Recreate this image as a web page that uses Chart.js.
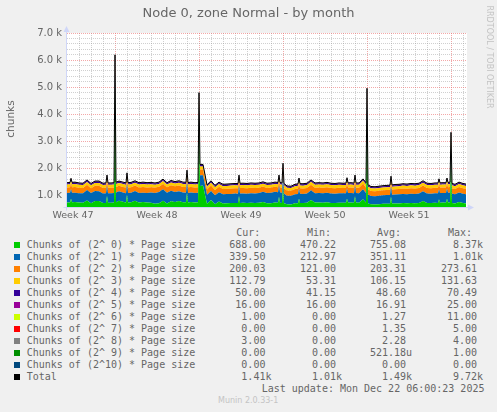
<!DOCTYPE html>
<html><head><meta charset="utf-8">
<script src="https://cdn.jsdelivr.net/npm/chart.js@4"></script>
<style>
html,body{margin:0;padding:0;background:#F0F0F0;width:497px;height:412px;overflow:hidden;}
#wrap{position:relative;width:497px;height:412px;}
#c{position:absolute;left:0;top:0;}
.t{position:absolute;white-space:pre;color:#666;font-family:"DejaVu Sans",sans-serif;}
.mono{font-family:"DejaVu Sans Mono",monospace;font-size:10px;line-height:12px;}
.sq{position:absolute;width:6px;height:6px;}
</style></head><body><div id="wrap"><canvas id="c" width="497" height="225"></canvas></div>
<script>
// ---- data (time in hours since the left edge of the graph) ----
const hours = [0,6,8,10,
  16,24,32,40,48,56,64,72, 78,80,82,
  88,94,96,98,104,112, 118,120,122,
  128,136,144,152,160,168,176,184,192,200,208,216,224,232, 238,240,242,
  248,256,262,264,266,272,280,288,296,304,312,320,328,336, 342,344,346,
  352,360,368,376,384,392,400,408,416, 422,424,426,
  430,432,434,440,448,456, 462,464,466,
  472,480,488,496,504,512,520,528,536,544,552, 558,560,562, 568, 574,576,578,
  584,592,598,600,602,608,616,624,632,640, 646,648,650,
  656,664,672,680,688,696,704,712,720,728,736, 742,744,746, 752, 758,760,762,
  766,768,770,776,784,792,798];

const chunks0 = [748,752,891,760,
  768,747,736,824,719,805,804,728, 735,986,740,
  743,748,5021,758,815,775, 745,1039,750,
  760,809,751,763,745,736,703,723,815,712,794,769,804,760, 755,1107,748,
  763,749,759,3748,1353,1378,703,837,686,790,715,718,727,732, 730,988,735,
  738,730,743,735,740,771,717,723,752, 740,960,738,
  731,1348,722,681,675,719, 725,899,730,
  726,738,838,745,749,742,754,733,730,743,736, 740,896,745, 748, 740,977,745,
  743,868,748,3848,711,680,677,689,699,702, 705,974,710,
  713,715,727,717,728,721,733,808,733,730,738, 735,866,740, 745, 742,887,748,
  759,2357,732,715,766,731,716];
const chunks1 = [350,352,360,348,
  345,340,350,390,380,370,360,350, 355,380,350,
  345,350,700,360,350,345, 348,400,350,
  350,360,345,350,355,380,400,410,420,400,390,370,360,355, 355,420,355,
  355,350,350,600,400,380,330,340,330,340,335,340,340,345, 345,380,345,
  345,345,350,350,355,370,380,390,390, 390,420,385,
  370,450,360,320,320,335, 340,370,340,
  340,345,360,345,350,350,355,350,345,350,350, 350,380,352, 355, 350,390,350,
  350,370,355,650,330,310,305,310,315,320, 322,370,325,
  330,335,340,340,345,345,350,360,350,345,355, 355,370,355, 355, 355,375,358,
  360,550,345,335,355,345,340];
const chunks2 = [205,208,210,208,
  208,205,200,190,180,190,200,205, 206,210,205,
  205,205,250,205,200,205, 205,215,205,
  205,205,208,210,205,200,195,195,200,195,200,205,208,208, 208,220,206,
  205,205,205,240,215,210,195,200,195,198,198,200,200,200, 200,210,202,
  202,200,202,200,200,195,190,185,185, 186,200,190,
  195,210,195,190,188,195, 200,205,200,
  200,202,205,205,205,203,205,202,200,202,200, 202,205,202, 202, 202,210,202,
  202,205,202,245,190,185,183,185,188,190, 192,200,194,
  195,198,200,200,202,200,202,205,202,200,202, 204,206,204, 204, 205,208,205,
  205,230,200,198,204,200,200];
const chunks3 = [108,108,108,109,
  110,110,106,104,102,105,106,108, 108,110,108,
  108,108,125,108,106,106, 106,112,106,
  106,106,107,108,106,105,104,104,105,104,106,107,108,108, 108,115,108,
  108,107,107,120,110,110,104,104,102,104,104,104,105,105, 105,110,106,
  106,106,106,106,106,105,104,103,104, 104,108,105,
  105,110,104,102,100,103, 104,106,105,
  105,106,107,106,107,106,107,106,106,106,105, 105,107,106, 106, 106,110,106,
  106,107,106,122,102,100,100,101,102,102, 103,106,103,
  104,104,105,105,106,105,106,107,106,106,106, 107,108,107, 107, 107,108,107,
  107,115,105,104,106,105,105];
const chunks4 = [48,48,50,48,
  48,47,47,50,48,49,49,48, 48,52,48,
  48,48,60,48,48,48, 48,52,48,
  48,49,48,48,48,48,47,47,49,48,49,48,49,48, 48,55,48,
  48,48,48,58,50,50,47,48,46,47,47,47,47,47, 47,50,48,
  48,48,48,48,48,48,48,48,48, 48,50,48,
  48,50,48,46,46,47, 48,49,48,
  48,48,49,48,48,48,48,48,48,48,48, 48,50,48, 48, 48,51,48,
  48,49,48,60,46,45,45,45,46,46, 46,49,46,
  47,47,47,47,48,48,48,49,48,48,48, 48,49,48, 48, 48,50,48,
  48,55,47,47,48,48,48];
const chunks5 = [17,17,17,17,
  17,17,17,18,17,17,17,17, 17,18,17,
  17,17,20,17,17,17, 17,18,17,
  17,17,17,17,17,17,17,17,17,17,17,17,17,17, 17,19,17,
  17,17,17,20,18,18,17,17,17,17,17,17,17,17, 17,18,17,
  17,17,17,17,17,17,17,17,17, 17,18,17,
  17,18,17,17,17,17, 17,17,17,
  17,17,17,17,17,17,17,17,17,17,17, 17,18,17, 17, 17,18,17,
  17,17,17,21,17,16,16,16,16,16, 16,17,16,
  17,17,17,17,17,17,17,17,17,17,17, 17,17,17, 17, 17,18,17,
  17,19,17,17,17,17,17];
const chunks6 = [1,1,1,1,
  1,2,1,1,1,1,2,1, 1,1,1,
  1,1,11,1,1,1, 1,2,1,
  1,1,1,1,1,2,1,1,1,1,1,2,1,1, 1,3,1,
  1,1,1,6,2,2,1,1,1,1,1,1,2,1, 1,1,1,
  1,1,1,1,1,1,1,2,1, 1,1,1,
  1,4,1,1,1,1, 1,2,1,
  1,1,1,1,1,1,1,1,1,1,1, 1,2,1, 1, 1,2,1,
  1,1,1,8,1,1,1,1,1,1, 1,1,1,
  2,1,1,1,1,1,1,1,1,1,1, 1,2,1, 1, 1,2,1,
  1,5,1,1,1,1,1];
const chunks7 = [1,1,2,1,
  1,1,1,2,1,1,1,1, 1,2,1,
  1,1,5,1,1,1, 1,2,1,
  1,1,1,1,2,1,1,1,2,1,1,1,1,1, 1,2,1,
  1,1,1,4,2,2,1,1,2,1,1,1,1,1, 1,1,1,
  2,1,1,1,1,2,1,1,1, 1,2,1,
  1,3,1,1,1,1, 1,2,1,
  1,1,2,1,1,1,2,1,1,1,1, 1,2,1, 1, 1,2,1,
  1,1,1,5,1,1,1,1,1,1, 1,1,1,
  2,1,1,1,2,1,1,1,2,1,1, 1,2,1, 1, 1,2,1,
  1,3,1,1,2,1,0];
const chunks8 = [2,2,2,2,
  3,2,2,2,3,2,2,2, 2,3,2,
  2,2,4,2,2,2, 2,3,2,
  2,2,2,3,2,2,2,2,3,2,2,2,2,2, 2,3,2,
  2,2,2,4,3,3,2,2,2,2,3,2,2,2, 2,2,2,
  2,3,2,2,2,2,3,2,2, 2,2,2,
  2,4,2,2,2,2, 2,3,2,
  2,2,2,2,2,3,2,2,2,2,2, 2,3,2, 2, 2,2,2,
  2,2,2,4,2,2,2,2,2,2, 2,2,2,
  3,2,2,2,2,3,2,2,2,2,2, 2,3,2, 2, 2,2,2,
  2,4,2,2,2,2,3];
const chunks9 = [0,0,0,0,0,0,0,0,0,0,0,0,0,0,0,
  0,0,1,0,0,0,0,0,0,0,0,0,0,0,0,
  0,0,0,0,0,0,0,0,0,0,0,0,0,0,0,
  0,0,0,0,0,0,0,0,0,0,0,0,0,0,0,
  0,0,0,0,0,0,0,0,0,0,0,0,0,0,0,
  0,0,0,0,0,0,0,0,0,0,0,0,0,0,0,
  0,0,0,0,0,0,0,0,0,0,0,0,0,0,0,
  0,0,0,0,0,0,0,0,0,0,0,0,0,0,0,
  0,0,0,0,0,0,0,0,0,0,0,0,0,0,0];
const chunks10 = [0,0,0,0,0,0,0,0,0,0,0,0,0,0,0,
  0,0,0,0,0,0,0,0,0,0,0,0,0,0,0,
  0,0,0,0,0,0,0,0,0,0,0,0,0,0,0,
  0,0,0,0,0,0,0,0,0,0,0,0,0,0,0,
  0,0,0,0,0,0,0,0,0,0,0,0,0,0,0,
  0,0,0,0,0,0,0,0,0,0,0,0,0,0,0,
  0,0,0,0,0,0,0,0,0,0,0,0,0,0,0,
  0,0,0,0,0,0,0,0,0,0,0,0,0,0,0,
  0,0,0,0,0,0,0,0,0,0,0,0,0,0,0];

const seriesNames = ['Chunks of (2^ 0) * Page size','Chunks of (2^ 1) * Page size','Chunks of (2^ 2) * Page size','Chunks of (2^ 3) * Page size','Chunks of (2^ 4) * Page size','Chunks of (2^ 5) * Page size','Chunks of (2^ 6) * Page size','Chunks of (2^ 7) * Page size','Chunks of (2^ 8) * Page size','Chunks of (2^ 9) * Page size','Chunks of (2^10) * Page size','Total'];
const seriesColors = ['#00CC00','#0066B3','#FF8000','#FFCC00','#330099','#990099','#CCFF00','#FF0000','#808080','#008F00','#00487D','#000000'];
const curVals = ['688.00','339.50','200.03','112.79','50.00','16.00','1.00','0.00','3.00','0.00','0.00','1.41k'];
const minVals = ['470.22','212.97','121.00','53.31','41.15','16.00','0.00','0.00','0.00','0.00','0.00','1.01k'];
const avgVals = ['755.08','351.11','203.31','106.15','48.60','16.91','1.27','1.35','2.28','521.18u','0.00','1.49k'];
const maxVals = ['8.37k','1.01k','273.61','131.63','70.49','25.00','11.00','5.00','4.00','1.00','0.00','9.72k'];

const weekLabels = ['Week 47','Week 48','Week 49','Week 50','Week 51'];
const weekCenters = [12,180,348,516,684];   // hours: middle of each week
const weekStarts = [96,264,432,600,768];    // hours: Monday 00:00
const yLabelStep = 1000;

// ---- chart ----
const series = [chunks0,chunks1,chunks2,chunks3,chunks4,chunks5,chunks6,chunks7,chunks8,chunks9,chunks10];
const badLen = series.some(s => s.length !== hours.length);
const total = hours.map((h,i)=>series.reduce((a,s)=>a+s[i],0));

const datasets = series.map((arr,k)=>({
  label: seriesNames[k],
  data: hours.map((h,i)=>({x:h,y:arr[i]})),
  backgroundColor: seriesColors[k],
  borderColor: seriesColors[k],
  borderWidth: 0,
  pointRadius: 0,
  fill: k===0 ? 'origin' : '-1',
  tension: 0,
  stack: 'chunks',
  order: 1
}));
datasets.push({
  label: 'Total',
  data: hours.map((h,i)=>({x:h,y:total[i]})),
  borderColor: '#000000',
  borderWidth: 1,
  pointRadius: 0,
  fill: false,
  tension: 0,
  stack: 'total',
  order: 0
});

const MINOR = 'rgba(150,150,150,0.45)';
const MAJOR = 'rgba(235,110,110,0.6)';
const AXIS = '#CFD6F8';

const frame = {
  id: 'frame',
  beforeDraw(chart){
    const {ctx, chartArea:a} = chart;
    ctx.save(); ctx.fillStyle = '#FFFFFF';
    ctx.fillRect(a.left, a.top, a.right-a.left, a.bottom-a.top);
    ctx.restore();
  },
  afterDraw(chart){
    const {ctx, chartArea:a} = chart;
    ctx.save();
    ctx.strokeStyle = AXIS; ctx.fillStyle = AXIS; ctx.lineWidth = 1;
    const lx = Math.round(a.left) - 0.5, by = Math.round(a.bottom) + 0.5;
    ctx.beginPath(); ctx.moveTo(lx, by + 3); ctx.lineTo(lx, a.top - 2); ctx.stroke();
    ctx.beginPath(); ctx.moveTo(lx - 3, a.top - 1); ctx.lineTo(lx + 3, a.top - 1); ctx.lineTo(lx, a.top - 7); ctx.closePath(); ctx.fill();
    ctx.beginPath(); ctx.moveTo(lx - 3, by); ctx.lineTo(a.right + 2, by); ctx.stroke();
    ctx.beginPath(); ctx.moveTo(a.right + 1, by - 3); ctx.lineTo(a.right + 1, by + 3); ctx.lineTo(a.right + 7, by); ctx.closePath(); ctx.fill();
    ctx.restore();
  }
};

new Chart(document.getElementById('c'), {
  type: 'line',
  data: { datasets },
  plugins: [frame],
  options: {
    responsive: false,
    animation: false,
    events: [],
    layout: { padding: { left: 0, top: 33, right: 30, bottom: 0 } },
    plugins: { legend: { display: false }, tooltip: { enabled: false }, title: { display: false } },
    scales: {
      x: {
        type: 'linear', min: 0, max: 800,
        afterBuildTicks: s => { const t = []; for (let v = 0; v <= 792; v += 12) t.push({value: v}); s.ticks = t; },
        afterFit: s => { s.height = 225 - 207.3; },
        ticks: {
          autoSkip: false, maxRotation: 0, minRotation: 0, padding: 3,
          color: '#666666', font: { family: 'DejaVu Sans', size: 9.5 },
          callback: v => { const i = weekCenters.indexOf(v); return i >= 0 ? weekLabels[i] : ''; }
        },
        grid: {
          drawTicks: false, lineWidth: 1,
          color: c => { const v = c.tick ? c.tick.value : -1;
            if (v <= 0) return 'rgba(0,0,0,0)';
            if (weekStarts.indexOf(v) >= 0) return MAJOR;
            if (v % 24 === 0) return MINOR;
            return 'rgba(0,0,0,0)'; }
        },
        border: { display: false, dash: [1, 1] }
      },
      y: {
        stacked: true, min: 572, max: 7000,
        afterBuildTicks: s => { const t = []; for (let v = 600; v <= 7000; v += 200) t.push({value: v}); s.ticks = t; },
        afterFit: s => { s.width = 67; },
        ticks: {
          autoSkip: false, padding: 5,
          color: '#666666', font: { family: 'DejaVu Sans', size: 10 },
          callback: v => v % yLabelStep === 0 ? (v / 1000).toFixed(1) + ' k' : ''
        },
        grid: {
          drawTicks: false, lineWidth: 1,
          color: c => { const v = c.tick ? c.tick.value : 0; return v % yLabelStep === 0 ? MAJOR : MINOR; }
        },
        border: { display: false, dash: [1, 1] }
      }
    }
  }
});

// ---- text (title, axis title, legend) ----
const wrap = document.getElementById('wrap');
function addText(txt, css, cls){
  const d = document.createElement('div');
  d.className = 't' + (cls ? ' ' + cls : '');
  d.textContent = txt;
  Object.assign(d.style, css);
  wrap.appendChild(d);
  return d;
}
if (badLen) addText('LENGTH MISMATCH ' + series.map(s=>s.length).join(',') + ' / ' + hours.length, {left:'80px', top:'60px', color:'red', fontSize:'12px'});
addText('Node 0, zone Normal - by month', {left:'0px', top:'5px', width:'497px', textAlign:'center', fontSize:'13px', lineHeight:'16px'});
addText('chunks', {left:'-20px', top:'112px', width:'60px', height:'14px', textAlign:'center', fontSize:'10.5px', lineHeight:'14px', transform:'rotate(-90deg)'});
addText('RRDTOOL / TOBI OETIKER', {left:'428.7px', top:'51.5px', width:'120px', height:'10px', textAlign:'center', fontSize:'8px', lineHeight:'10px', color:'#c4c4c4', transform:'rotate(90deg)'});

const colX = [229.3, 300, 370, 441];
const heads = ['Cur:','Min:','Avg:','Max:'];
heads.forEach((h,j)=>addText(h, {left:(colX[j]+7)+'px', top:'226.7px'}, 'mono'));
function fmt(s){
  const last = s.slice(-1);
  const hasUnit = /[a-zA-Z]/.test(last);
  const num = hasUnit ? s.slice(0,-1) : s;
  return num.padStart(6,' ') + (hasUnit ? last : ' ');
}
seriesNames.forEach((name,k)=>{
  const cy = 245 + 12*k;
  const sq = document.createElement('div');
  sq.className = 'sq';
  Object.assign(sq.style, {left:'14px', top:(cy-3)+'px', background:seriesColors[k]});
  wrap.appendChild(sq);
  addText(name, {left:'26.7px', top:(cy-6)+'px'}, 'mono');
  [curVals, minVals, avgVals, maxVals].forEach((arr,j)=>addText(fmt(arr[k]), {left:colX[j]+'px', top:(cy-6)+'px'}, 'mono'));
});
addText('Last update: Mon Dec 22 06:00:23 2025', {left:'261.7px', top:'383.3px'}, 'mono');
addText('Munin 2.0.33-1', {left:'218px', top:'396px', fontSize:'8px', lineHeight:'10px', color:'#c4c4c4'});
</script>
</body></html>
